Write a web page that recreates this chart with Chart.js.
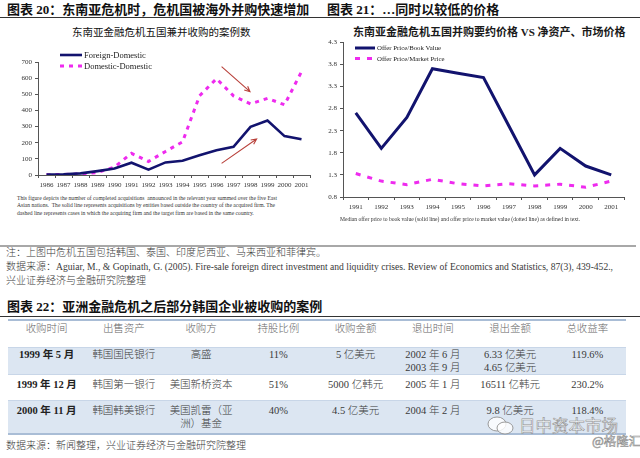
<!DOCTYPE html>
<html><head><meta charset="utf-8">
<script src="https://cdn.jsdelivr.net/npm/chart.js@4/dist/chart.umd.min.js"></script>
<style>
html,body{margin:0;padding:0;background:#fff;}
body{width:640px;height:458px;position:relative;overflow:hidden;font-family:"Liberation Serif","Noto Sans CJK SC",serif;color:#222;}
.abs{position:absolute;white-space:nowrap;}
.ttl{font-size:13px;font-weight:700;line-height:16px;color:#111;}
.rule{position:absolute;height:1px;background:#333;}
.ctitle{font-family:"Noto Sans CJK SC",sans-serif;font-size:10.5px;line-height:13px;color:#111;}
.ctitle2{font-family:"Liberation Serif","Noto Sans CJK SC",sans-serif;font-size:11px;line-height:13px;font-weight:700;color:#1a1a1a;}
.cap{font-family:"Liberation Serif";font-size:5.6px;line-height:7.3px;color:#333;}
.note{font-size:10px;line-height:14px;color:#3a3a3a;font-weight:300;}
.note .lat{font-size:9.6px;}
canvas{position:absolute;}
.row{position:absolute;left:8px;width:618px;}
.cell{position:absolute;text-align:center;font-size:10.5px;line-height:12.5px;color:#3a3a3a;white-space:pre;font-weight:300;}
.hdr .cell{color:#666;}
.cell.bold{font-weight:700;color:#222;}
.wm{position:absolute;white-space:nowrap;font-family:"Noto Sans CJK SC",sans-serif;color:rgba(255,255,255,0.85);-webkit-text-stroke:0.6px #909090;}
</style>
</head>
<body>
<div class="abs ttl" style="left:7px;top:2px;">图表 20：东南亚危机时，危机国被海外并购快速增加</div>
<div class="abs ttl" style="left:327px;top:2px;">图表 21：…同时以较低的价格</div>
<div class="rule" style="left:0;top:17px;width:640px;"></div>

<div class="abs ctitle" style="left:72px;top:25px;">东南亚金融危机五国兼并收购的案例数</div>
<div class="abs ctitle2" style="left:353px;top:26px;">东南亚金融危机五国并购要约价格 VS 净资产、市场价格</div>

<canvas id="cA" width="320" height="150" style="left:0;top:40px;"></canvas>
<canvas id="cB" width="320" height="185" style="left:320px;top:35px;"></canvas>

<div class="abs cap" style="left:17px;top:195px;">This figure depicts the number of completed acquisitions&nbsp; announced in the relevant year summed over the five East<br>Asian nations.&nbsp; The solid line represents acquisitions by entities based outside the country of the acquired firm. The<br>dashed line represents cases in which the acquiring firm and the target firm are based in the same country.</div>
<div class="abs cap" style="left:340px;top:216px;">Median offer price to book value (solid line) and offer price to market value (dotted line) as defined in text.</div>

<div style="position:absolute;left:0;top:245px;width:636px;height:2px;background:#a8a8a8;"></div>

<div class="abs note" style="left:6px;top:246px;">注：上图中危机五国包括韩国、泰国、印度尼西亚、马来西亚和菲律宾。</div>
<div class="abs note" style="left:6px;top:260px;">数据来源：<span class="lat">Aguiar, M., &amp; Gopinath, G. (2005). Fire-sale foreign direct investment and liquidity crises. Review of Economics and Statistics, 87(3), 439-452.,</span></div>
<div class="abs note" style="left:6px;top:274px;">兴业证券经济与金融研究院整理</div>

<div class="abs ttl" style="left:7px;top:299px;">图表 22：亚洲金融危机之后部分韩国企业被收购的案例</div>
<div class="rule" style="left:0;top:316px;width:640px;"></div>

<div id="tbl"></div>

<div class="abs note" style="left:6px;top:439px;">数据来源：新闻整理，兴业证券经济与金融研究院整理</div>

<svg style="position:absolute;left:486px;top:416px;" width="30" height="20" viewBox="0 0 30 20">
<ellipse cx="11" cy="8" rx="9" ry="7" fill="rgba(255,255,255,0.8)" stroke="#909090" stroke-width="0.9"/>
<ellipse cx="19" cy="12" rx="8" ry="6" fill="rgba(255,255,255,0.8)" stroke="#909090" stroke-width="0.9"/>
</svg>
<div class="wm" style="left:519px;top:415px;font-size:16.5px;line-height:20px;">日中资本市场</div>
<div class="wm" style="left:592px;top:433px;font-size:12.5px;line-height:16px;">@格隆汇</div>

<script>
// ---------- Chart 20 data ----------
const yearsA = ['1986','1987','1988','1989','1990','1991','1992','1993','1994','1995','1996','1997','1998','1999','2000','2001'];
const foreignDomestic = [3, 5, 10, 24, 40, 76, 33, 78, 88, 122, 154, 175, 298, 338, 241, 222];
const domesticDomestic = [2, 3, 6, 15, 50, 134, 84, 146, 205, 490, 597, 490, 440, 475, 435, 640];
const yTicksA = [0, 100, 200, 300, 400, 500, 600, 700];
// arrows (annotation), in data space: [categoryIndex, value]
const arrowsA = [
  {from: [10.3, 671], to: [11.97, 516]},
  {from: [10.3, 72],  to: [12.36, 223]}
];

// ---------- Chart 21 data ----------
const yearsB = ['1991','1992','1993','1994','1995','1996','1997','1998','1999','2000','2001'];
const bookValue = [2.7, 1.9, 2.6, 3.7, 3.6, 3.5, 2.4, 1.3, 1.9, 1.5, 1.3];
const marketPrice = [1.33, 1.16, 1.08, 1.2, 1.1, 1.05, 1.1, 1.05, 1.09, 1.02, 1.16];
const yTicksB = [0.8, 1.3, 1.8, 2.3, 2.8, 3.3, 3.8, 4.3];

// ---------- Table 22 data ----------
const tableHeader = ['收购时间','出售资产','收购方','持股比例','收购金额','退出时间','退出金额','总收益率'];
const tableRows = [
  ['1999 年 5 月','韩国国民银行','高盛','11%','5 亿美元','2002 年 6 月\n2003 年 9 月','6.33 亿美元\n4.65 亿美元','119.6%'],
  ['1999 年 12 月','韩国第一银行','美国新桥资本','51%','5000 亿韩元','2005 年 1 月','16511 亿韩元','230.2%'],
  ['2000 年 11 月','韩国韩美银行','美国凯雷（亚\n洲）基金','40%','4.5 亿美元','2004 年 2 月','9.8 亿美元','118.4%']
];

const NAVY = '#12136e';
const MAG = '#ee2bee';
const AXIS = '#555';
const tickFont = {family: 'Liberation Serif', size: 7};

const legendPlugin = {
  id: 'customLegend',
  afterDraw(chart, args, o) {
    const ctx = chart.ctx;
    chart.data.datasets.forEach((ds, i) => {
      const y = o.y + i * o.dy;
      ctx.save();
      ctx.strokeStyle = ds.borderColor;
      ctx.lineWidth = ds.borderWidth;
      ctx.setLineDash(ds.borderDash || []);
      ctx.beginPath(); ctx.moveTo(o.x, y); ctx.lineTo(o.x + o.len, y); ctx.stroke();
      ctx.setLineDash([]);
      ctx.fillStyle = '#222';
      ctx.font = o.font;
      ctx.textBaseline = 'middle';
      ctx.fillText(ds.label, o.x + o.len + 2, y + 0.5);
      ctx.restore();
    });
  }
};

const arrowPlugin = {
  id: 'arrows',
  afterDatasetsDraw(chart, args, o) {
    if (!o.list) return;
    const ctx = chart.ctx, xs = chart.scales.x, ys = chart.scales.y;
    o.list.forEach(a => {
      const x1 = xs.getPixelForValue(a.from[0]), y1 = ys.getPixelForValue(a.from[1]);
      const x2 = xs.getPixelForValue(a.to[0]), y2 = ys.getPixelForValue(a.to[1]);
      const ang = Math.atan2(y2 - y1, x2 - x1), h = 6;
      ctx.save();
      ctx.strokeStyle = o.color; ctx.lineWidth = 1.1;
      ctx.beginPath(); ctx.moveTo(x1, y1); ctx.lineTo(x2, y2);
      ctx.moveTo(x2 - h * Math.cos(ang - 0.45), y2 - h * Math.sin(ang - 0.45));
      ctx.lineTo(x2, y2);
      ctx.lineTo(x2 - h * Math.cos(ang + 0.45), y2 - h * Math.sin(ang + 0.45));
      ctx.stroke();
      ctx.restore();
    });
  }
};

function makeScales(yTicks, yMin, yMax, yWidth, xHeight, fmt) {
  return {
    x: {
      type: 'category', offset: true,
      grid: {display: true, offset: true, drawOnChartArea: false, drawTicks: true, tickLength: 3, color: AXIS},
      border: {display: true, color: AXIS, width: 1},
      ticks: {font: tickFont, color: '#333', autoSkip: false, maxRotation: 0, minRotation: 0, padding: 3},
      afterFit(s) { s.height = xHeight; }
    },
    y: {
      type: 'linear', min: yMin, max: yMax,
      grid: {display: true, drawOnChartArea: false, drawTicks: true, tickLength: 3, color: AXIS},
      border: {display: true, color: AXIS, width: 1},
      ticks: {font: tickFont, color: '#333', padding: 3, callback: fmt},
      afterBuildTicks(s) { s.ticks = yTicks.map(v => ({value: v})); },
      afterFit(s) { s.width = yWidth; }
    }
  };
}

Chart.defaults.animation = false;

new Chart(document.getElementById('cA'), {
  type: 'line',
  data: {
    labels: yearsA,
    datasets: [
      {label: 'Foreign-Domestic', data: foreignDomestic, borderColor: NAVY, borderWidth: 2.6, pointRadius: 0, tension: 0, fill: false},
      {label: 'Domestic-Domestic', data: domesticDomestic, borderColor: MAG, borderWidth: 3, borderDash: [4, 5], pointRadius: 0, tension: 0, fill: false}
    ]
  },
  options: {
    responsive: false, animation: false, events: [],
    layout: {padding: {left: 0, right: 10, top: 22, bottom: 0}},
    plugins: {
      legend: {display: false}, tooltip: {enabled: false},
      customLegend: {x: 60, y: 15, dy: 11, len: 22, font: '8.5px "Liberation Serif"'},
      arrows: {list: arrowsA, color: '#b8403a'}
    },
    scales: makeScales(yTicksA, 0, 700, 38, 15, v => String(v))
  },
  plugins: [legendPlugin, arrowPlugin]
});

new Chart(document.getElementById('cB'), {
  type: 'line',
  data: {
    labels: yearsB,
    datasets: [
      {label: 'Offer Price/Book Value', data: bookValue, borderColor: NAVY, borderWidth: 3, pointRadius: 0, tension: 0, fill: false},
      {label: 'Offer Price/Market Price', data: marketPrice, borderColor: MAG, borderWidth: 3, borderDash: [5, 7], pointRadius: 0, tension: 0, fill: false}
    ]
  },
  options: {
    responsive: false, animation: false, events: [],
    layout: {padding: {left: 0, right: 16, top: 7, bottom: 0}},
    plugins: {
      legend: {display: false}, tooltip: {enabled: false},
      customLegend: {x: 35, y: 13, dy: 10.5, len: 20, font: '6.8px "Liberation Serif"'}
    },
    scales: makeScales(yTicksB, 0.8, 4.3, 23, 23, v => Number(v).toFixed(1))
  },
  plugins: [legendPlugin]
});

// ---------- Table ----------
(function buildTable() {
  const tbl = document.getElementById('tbl');
  const colW = 618 / 8;
  const add = (html) => { tbl.insertAdjacentHTML('beforeend', html); };
  add('<div style="position:absolute;left:8px;top:319px;width:618px;height:2px;background:#a9bdd6;"></div>');
  const rowsLayout = [
    {top: 321, h: 26, textTop: 323, bg: null, cls: 'hdr', cells: tableHeader},
    {top: 347, h: 27, textTop: 349, bg: '#dce6f2', cells: tableRows[0]},
    {top: 374, h: 26, textTop: 379, bg: null, cells: tableRows[1]},
    {top: 400, h: 33, textTop: 405, bg: '#dce6f2', cells: tableRows[2]}
  ];
  rowsLayout.forEach(r => {
    let html = '<div class="row ' + (r.cls || '') + '" style="top:' + r.top + 'px;height:' + r.h + 'px;' + (r.bg ? 'background:' + r.bg + ';' : '') + '">';
    r.cells.forEach((c, i) => {
      html += '<div class="cell' + (i === 0 && !r.cls ? ' bold' : '') + '" style="left:' + (i * colW) + 'px;width:' + colW + 'px;top:' + (r.textTop - r.top) + 'px;">' + c + '</div>';
    });
    html += '</div>';
    add(html);
  });
  add('<div style="position:absolute;left:8px;top:347px;width:618px;height:1px;background:#c8d6e8;"></div>');
  add('<div style="position:absolute;left:8px;top:374px;width:618px;height:1px;background:#c8d6e8;"></div>');
  add('<div style="position:absolute;left:8px;top:400px;width:618px;height:1px;background:#c8d6e8;"></div>');
  add('<div style="position:absolute;left:8px;top:433px;width:618px;height:2px;background:#a9bdd6;"></div>');
})();
</script>
</body></html>
